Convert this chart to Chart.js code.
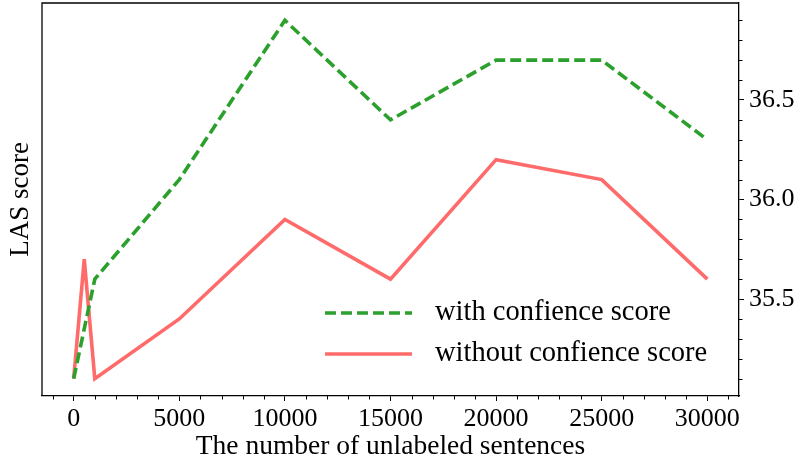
<!DOCTYPE html>
<html>
<head>
<meta charset="utf-8">
<script src="https://cdn.jsdelivr.net/npm/chart.js@4.4.1/dist/chart.umd.min.js"></script>
<style>
  html, body { margin: 0; padding: 0; background: #fff; }
</style>
</head>
<body>
<canvas id="chart" width="797" height="461"></canvas>
<script>
const sentences = [0, 500, 1000, 5000, 10000, 15000, 20000, 25000, 30000];
const withConf = [35.1, 35.35, 35.6, 36.1, 36.9, 36.4, 36.7, 36.7, 36.3];
const withoutConf = [35.1, 35.7, 35.1, 35.4, 35.9, 35.6, 36.2, 36.1, 35.6];
const xTicks = [0, 5000, 10000, 15000, 20000, 25000, 30000];
const yTicks = [35.5, 36.0, 36.5];

const FONT = "'Liberation Serif', 'Times New Roman', serif";

// frame, minor ticks, left label and the in-plot legend
const decor = {
  id: "decor",
  afterDraw(chart) {
    const ctx = chart.ctx;
    const a = chart.chartArea;
    const xs = chart.scales.x, ys = chart.scales.y;
    ctx.save();
    ctx.strokeStyle = "#000";
    ctx.lineWidth = 1.3;
    ctx.beginPath();
    ctx.moveTo(a.left, a.bottom);
    ctx.lineTo(a.left, a.top);
    ctx.lineTo(a.right, a.top);
    ctx.stroke();

    ctx.lineWidth = 1;
    ctx.beginPath();
    for (let v = -1000; v <= 31000; v += 1000) {
      if (v % 5000 === 0) continue;
      const px = Math.round(xs.getPixelForValue(v)) + 0.5;
      ctx.moveTo(px, a.bottom);
      ctx.lineTo(px, a.bottom + 3.5);
    }
    for (let i = 1; i <= 19; i++) {
      const v = 35 + i / 10;
      if (i % 5 === 0) continue;
      const py = Math.round(ys.getPixelForValue(v)) + 0.5;
      ctx.moveTo(a.right, py);
      ctx.lineTo(a.right + 3.5, py);
    }
    ctx.stroke();

    ctx.fillStyle = "#000";
    ctx.font = "27px " + FONT;
    ctx.textAlign = "center";
    ctx.textBaseline = "middle";
    ctx.translate(21, (a.top + a.bottom) / 2);
    ctx.rotate(-Math.PI / 2);
    ctx.fillText("LAS score", 0, 0);
    ctx.restore();

    ctx.save();
    ctx.font = "28.5px " + FONT;
    ctx.textBaseline = "middle";
    chart.data.datasets.forEach((ds, i) => {
      const y = 313 + i * 41;
      ctx.strokeStyle = ds.borderColor;
      ctx.lineWidth = ds.borderWidth;
      ctx.setLineDash(ds.borderDash || []);
      ctx.beginPath();
      ctx.moveTo(325, y);
      ctx.lineTo(412, y);
      ctx.stroke();
      ctx.setLineDash([]);
      ctx.fillStyle = "#000";
      ctx.fillText(ds.label, 435, y);
    });
    ctx.restore();
  }
};

new Chart(document.getElementById("chart"), {
  type: "line",
  data: {
    datasets: [
      {
        label: "with confience score",
        data: sentences.map((x, i) => ({ x, y: withConf[i] })),
        borderColor: "#2ca02c",
        borderWidth: 3.6,
        borderDash: [11, 5],
        pointRadius: 0,
        tension: 0
      },
      {
        label: "without confience score",
        data: sentences.map((x, i) => ({ x, y: withoutConf[i] })),
        borderColor: "#ff6b6b",
        borderWidth: 3.6,
        pointRadius: 0,
        tension: 0
      }
    ]
  },
  options: {
    responsive: false,
    animation: false,
    layout: { padding: { left: 42, top: 3, right: 0, bottom: 0 } },
    plugins: { legend: { display: false }, tooltip: { enabled: false } },
    scales: {
      x: {
        type: "linear",
        min: -1500,
        max: 31500,
        afterBuildTicks: s => { s.ticks = xTicks.map(v => ({ value: v })); },
        afterFit: s => { s.height = 65; s.paddingLeft = 0; s.paddingRight = 0; },
        grid: { drawOnChartArea: false, drawTicks: true, tickLength: 5, tickColor: "#000", tickWidth: 1 },
        border: { display: true, color: "#000", width: 1.3 },
        ticks: { color: "#000", font: { family: FONT, size: 26 }, padding: 3, maxRotation: 0, callback: v => String(v) },
        title: { display: true, text: "The number of unlabeled sentences", color: "#000", font: { family: FONT, size: 27.5, lineHeight: 1 }, padding: { top: 0, bottom: 0 } }
      },
      y: {
        type: "linear",
        position: "right",
        min: 35.013,
        max: 36.987,
        afterBuildTicks: s => { s.ticks = yTicks.map(v => ({ value: v })); },
        afterFit: s => { s.width = 58; s.paddingTop = 0; s.paddingBottom = 0; },
        grid: { drawOnChartArea: false, drawTicks: true, tickLength: 5, tickColor: "#000", tickWidth: 1 },
        border: { display: true, color: "#000", width: 1.3 },
        ticks: { color: "#000", font: { family: FONT, size: 26 }, padding: 5, callback: v => v.toFixed(1) }
      }
    }
  },
  plugins: [decor]
});
</script>
</body>
</html>
